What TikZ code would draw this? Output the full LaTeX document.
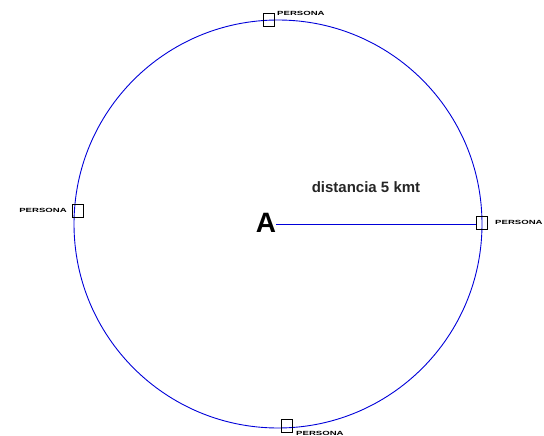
\documentclass[tikz,border=0pt]{standalone}
\usepackage{fontspec}
\usepackage{graphicx}
\setmainfont{Liberation Sans}
\newcommand{\perslbl}{\scalebox{1.6}[1]{PERSONA}}
\begin{document}
\begin{tikzpicture}[x=1pt,y=-1pt,
  sq/.style={draw=black,line width=0.9pt,minimum width=11pt,minimum height=13pt,inner sep=0pt},
  tinylbl/.style={font=\fontsize{6}{6}\selectfont\bfseries,inner sep=0pt},
  blueline/.style={draw=blue!85!black,line width=0.9pt}]
\useasboundingbox (0,0) rectangle (544,436);
\coordinate (c) at (278,224);
\draw[blueline] (c) circle (204);
\node[sq] (top) at (269,20) {};
\node[sq] (left) at (78,211) {};
\node[sq] (right) at (482,223) {};
\node[sq] (bottom) at (287,426) {};
\node[tinylbl,anchor=west] (ltop) at (277,13) {\perslbl};
\node[tinylbl,anchor=east] (lleft) at (67,210) {\perslbl};
\node[tinylbl,anchor=west] (lright) at (495,222) {\perslbl};
\node[tinylbl,anchor=west] (lbottom) at (296,433) {\perslbl};
\node[font=\fontsize{28}{30}\selectfont\bfseries,inner sep=0pt] (A) at (266,223) {A};
\draw[blueline] (A.east |- c) -- (c -| right.west);
\node[font=\fontsize{15}{16}\selectfont\bfseries,text=black!85] (dist) at (366,187) {distancia 5 kmt};
\end{tikzpicture}
\end{document}
